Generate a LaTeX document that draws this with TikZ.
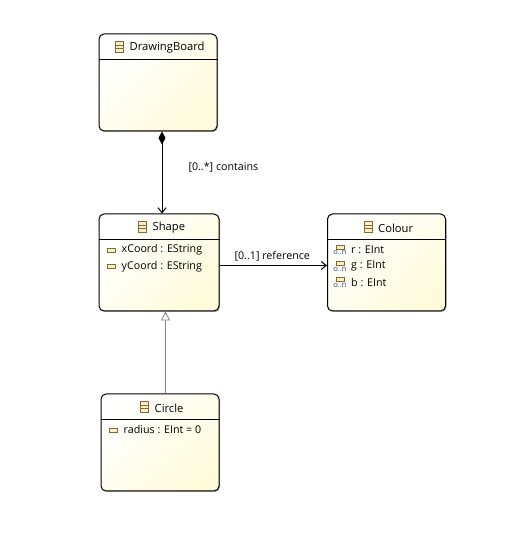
\documentclass[tikz,border=0pt]{standalone}
\usepackage{fontspec}
\setmainfont{Open Sans}
\usetikzlibrary{positioning,arrows.meta,shadows,calc}
\definecolor{classfill}{RGB}{255,251,219}
\definecolor{iconbrown}{RGB}{130,105,50}
\definecolor{iconfill}{RGB}{250,240,200}
\definecolor{manyblue}{RGB}{40,70,130}
\definecolor{inheritgray}{RGB}{130,130,130}
\tikzset{
  eclass/.style={
    rectangle,
    draw=black,
    rounded corners=5pt,
    top color=white,
    bottom color=classfill,
    shading angle=45,
    line width=1pt,
    minimum width=118pt,
    minimum height=97pt,
    inner sep=0pt,
    drop shadow={shadow xshift=1pt,shadow yshift=-1pt,opacity=0.35,fill=black}
  },
  etitle/.style={
    inner sep=0pt,
    anchor=west,
    font=\fontsize{11.2}{13}\selectfont
  },
  eattr/.style={
    inner sep=0pt,
    anchor=west,
    minimum height=16pt,
    font=\fontsize{10.7}{13}\selectfont
  },
  elabel/.style={
    inner sep=0pt,
    font=\fontsize{10.7}{13}\selectfont
  },
  arrow/.style={
    line width=1pt,
    -{Straight Barb[length=5pt,width=8pt]}
  },
  classicon/.pic={
    \draw[iconbrown,fill=iconfill,line width=0.8pt] (-4,-5.5) rectangle (4,5.5);
    \draw[iconbrown,line width=0.8pt] (-4,-1.8) -- (4,-1.8) (-4,1.8) -- (4,1.8);
  },
  attricon/.pic={
    \draw[iconbrown,fill=iconfill,line width=0.9pt] (-4,-2) rectangle (4,2);
  },
  manyicon/.pic={
    \draw[iconbrown,fill=iconfill,line width=0.9pt] (-4,1) rectangle (4,5);
    \node[inner sep=0pt,text=manyblue,font=\fontsize{7.5}{8}\selectfont] (-many) at (0,-3) {o..n};
  }
}
\begin{document}
\begin{tikzpicture}[x=1pt,y=1pt]
  \useasboundingbox (0,0) rectangle (506,538);

  % Classes
  \node[eclass] (board) at (158,455.5) {};
  \node[eclass, minimum width=120pt, below=82pt of board.south west, anchor=north west] (shape) {};
  \node[eclass, right=107.5pt of shape] (colour) {};
  \node[eclass, below=82pt of shape.south west, anchor=north west, xshift=2pt] (circle) {};

  % Header lines
  \foreach \cname in {board,shape,colour,circle}
    \draw[line width=1pt] ([yshift=-26pt]\cname.north west) -- ([yshift=-26pt]\cname.north east);

  % Titles
  \node[etitle] (boardtitle) at ([shift={(31,-14.5)}]board.north west) {DrawingBoard};
  \node[etitle] (shapetitle) at ([shift={(54,-14.5)}]shape.north west) {Shape};
  \node[etitle] (colourtitle) at ([shift={(51,-14.5)}]colour.north west) {Colour};
  \node[etitle] (circletitle) at ([shift={(54,-14.5)}]circle.north west) {Circle};
  \pic at ([xshift=-10pt,yshift=1pt]boardtitle.west) {classicon};
  \pic at ([xshift=-10pt,yshift=1pt]shapetitle.west) {classicon};
  \pic at ([xshift=-10pt,yshift=1pt]colourtitle.west) {classicon};
  \pic at ([xshift=-10pt,yshift=1pt]circletitle.west) {classicon};

  % Attributes
  \node[eattr] (xcoord) at ([shift={(23,-36.5)}]shape.north west) {xCoord : EString};
  \node[eattr, below=0pt of xcoord.south west, anchor=north west] (ycoord) {yCoord : EString};
  \pic at ([xshift=-10pt]xcoord.west) {attricon};
  \pic at ([xshift=-10pt]ycoord.west) {attricon};

  \node[eattr] (red) at ([shift={(24,-36.5)}]colour.north west) {r : EInt};
  \node[eattr, below=0pt of red.south west, anchor=north west] (green) {g : EInt};
  \node[eattr, below=0pt of green.south west, anchor=north west] (blue) {b : EInt};
  \pic (redicon) at ([xshift=-11pt]red.west) {manyicon};
  \pic (greenicon) at ([xshift=-11pt]green.west) {manyicon};
  \pic (blueicon) at ([xshift=-11pt]blue.west) {manyicon};

  \node[eattr] (radius) at ([shift={(23,-36.5)}]circle.north west) {radius : EInt = 0};
  \pic at ([xshift=-10pt]radius.west) {attricon};

  % Connectors
  \draw[arrow, {Diamond[length=13pt,width=7pt,fill=black]}-{Straight Barb[length=5pt,width=8pt]}]
    ([xshift=4pt]board.south) -- node[elabel, right=26pt, yshift=5pt] (contains) {[0..*] contains} ([xshift=3pt]shape.north);
  \draw[arrow] ([yshift=-3pt]shape.east) -- node[elabel, above=4pt, xshift=-1pt] (reference) {[0..1] reference} ([yshift=-3pt]colour.west);
  \draw[inheritgray, line width=0.8pt, -{Triangle[open,length=9pt,width=9pt,fill=white]}]
    ([xshift=5.5pt]circle.north) -- ([xshift=6.5pt]shape.south);
\end{tikzpicture}
\end{document}
